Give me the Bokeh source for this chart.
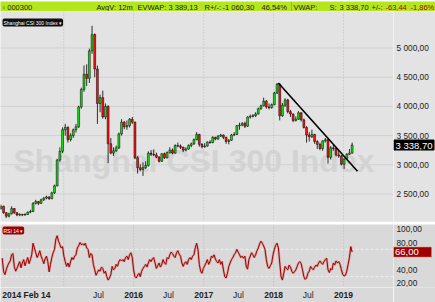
import numpy as np
import pandas as pd
from bokeh.plotting import figure
from bokeh.layouts import column, row
from bokeh.models import Range1d, Label, Span, ColumnDataSource
from bokeh.core.properties import value
from bokeh.embed import file_html
from bokeh.resources import INLINE

# ---------------- data (biweekly candles, CSI 300) ----------------
open_ = [
    2250, 2290, 2180, 2120, 2160, 2250, 2180, 2140, 2150, 2140,
    2150, 2190, 2200, 2340, 2370, 2340, 2400, 2430, 2450, 2420,
    2520, 2640, 3080, 3230, 3600, 3640, 3430, 3500, 3600, 3650,
    3990, 4290, 4550, 4480, 4950, 5230, 4640, 4050, 4150, 3820,
    4000, 3360, 3200, 3240, 3290, 3530, 3730, 3650, 3670, 3780,
    3730, 3120, 2950, 2920, 2950, 2990, 3200, 3180, 3170, 3130,
    3060, 3190, 3120, 3210, 3250, 3200, 3330, 3320, 3300, 3250,
    3270, 3330, 3360, 3430, 3520, 3350, 3310, 3320, 3390, 3380,
    3470, 3440, 3490, 3510, 3470, 3400, 3420, 3510, 3520, 3670,
    3680, 3710, 3660, 3820, 3830, 3840, 3870, 3960, 4010, 4090,
    3990, 3980, 4030, 4230, 4380, 3840, 4020, 4110, 3910, 3870,
    3760, 3780, 3890, 3770, 3640, 3510, 3480, 3520, 3400, 3350,
    3280, 3410, 3430, 3130, 3290, 3280, 3170, 3150, 3010, 3100,
    3180, 3200]
close = [
    2290, 2180, 2120, 2160, 2250, 2180, 2140, 2150, 2140, 2150,
    2190, 2200, 2340, 2370, 2340, 2400, 2430, 2450, 2420, 2520,
    2640, 3080, 3230, 3600, 3640, 3430, 3500, 3600, 3650, 3990,
    4290, 4550, 4480, 4950, 5230, 4640, 4050, 4150, 3820, 4000,
    3360, 3200, 3240, 3290, 3530, 3730, 3650, 3670, 3780, 3730,
    3120, 2950, 2920, 2950, 2990, 3200, 3180, 3170, 3130, 3060,
    3190, 3120, 3210, 3250, 3200, 3330, 3320, 3300, 3250, 3270,
    3330, 3360, 3430, 3520, 3350, 3310, 3320, 3390, 3380, 3470,
    3440, 3490, 3510, 3470, 3400, 3420, 3510, 3520, 3670, 3680,
    3710, 3660, 3820, 3830, 3840, 3870, 3960, 4010, 4090, 3990,
    3980, 4030, 4230, 4380, 3840, 4020, 4110, 3910, 3870, 3760,
    3780, 3890, 3770, 3640, 3510, 3480, 3520, 3400, 3350, 3280,
    3410, 3430, 3130, 3290, 3280, 3170, 3150, 3010, 3100, 3180,
    3200, 3338.70]
high = [
    2320, 2300, 2190, 2180, 2290, 2260, 2190, 2170, 2160, 2170,
    2200, 2230, 2360, 2400, 2380, 2420, 2450, 2470, 2460, 2540,
    2660, 3100, 3300, 3640, 3700, 3660, 3540, 3620, 3700, 4010,
    4320, 4700, 4720, 4990, 5380, 5250, 4700, 4200, 4270, 4050,
    4020, 3460, 3300, 3330, 3550, 3780, 3750, 3760, 3800, 3820,
    3740, 3150, 3010, 3040, 3060, 3230, 3250, 3260, 3210, 3150,
    3200, 3210, 3230, 3300, 3280, 3350, 3380, 3350, 3310, 3300,
    3350, 3380, 3450, 3560, 3530, 3370, 3370, 3400, 3420, 3490,
    3480, 3510, 3530, 3520, 3480, 3440, 3530, 3560, 3680, 3720,
    3730, 3740, 3830, 3860, 3870, 3900, 3980, 4030, 4150, 4110,
    4050, 4050, 4250, 4400, 4390, 4060, 4140, 4130, 3940, 3880,
    3830, 3920, 3900, 3790, 3660, 3560, 3600, 3530, 3420, 3380,
    3420, 3460, 3440, 3320, 3340, 3290, 3250, 3170, 3110, 3200,
    3270, 3380]
low = [
    2230, 2160, 2090, 2100, 2150, 2160, 2120, 2120, 2120, 2130,
    2140, 2170, 2190, 2320, 2310, 2330, 2380, 2410, 2400, 2410,
    2500, 2630, 3050, 3200, 3500, 3380, 3400, 3460, 3550, 3630,
    3960, 4250, 4350, 4400, 4900, 4500, 3700, 3900, 3790, 3780,
    3030, 3180, 3150, 3220, 3270, 3500, 3610, 3600, 3640, 3700,
    3100, 2850, 2890, 2810, 2930, 2970, 3150, 3150, 3110, 3040,
    3050, 3100, 3110, 3190, 3180, 3190, 3300, 3270, 3220, 3230,
    3260, 3300, 3340, 3420, 3310, 3280, 3290, 3310, 3360, 3370,
    3420, 3430, 3480, 3440, 3360, 3350, 3410, 3490, 3510, 3600,
    3660, 3630, 3650, 3790, 3810, 3820, 3860, 3940, 4000, 3960,
    3950, 3960, 4020, 4210, 3760, 3820, 3990, 3880, 3820, 3730,
    3740, 3770, 3740, 3620, 3380, 3400, 3460, 3360, 3270, 3250,
    3240, 3380, 3020, 3090, 3240, 3140, 3120, 2990, 2930, 3080,
    3170, 3190]

# weekly RSI(14)
rsi = [
    57, 38, 33, 40, 46, 50, 53, 62, 64, 45,
    38, 42, 47, 52, 43, 50, 55, 46, 52, 58,
    49, 55, 62, 79, 72, 65, 58, 62, 68, 60,
    55, 49, 56, 60, 52, 37, 48, 58, 65, 70,
    85, 90, 82, 77, 72, 74, 60, 52, 45, 50,
    44, 52, 58, 55, 60, 62, 72, 75, 80, 77,
    78, 76, 79, 72, 70, 58, 64, 62, 48, 40,
    32, 36, 40, 38, 44, 42, 35, 38, 30, 25,
    28, 33, 45, 40, 42, 48, 45, 52, 55, 53,
    55, 52, 58, 60, 55, 62, 65, 58, 40, 30,
    28, 32, 35, 30, 38, 42, 45, 48, 44, 50,
    55, 52, 56, 58, 50, 42, 46, 50, 44, 48,
    55, 50, 48, 58, 56, 62, 66, 64, 60, 58,
    65, 68, 63, 60, 50, 45, 50, 52, 48, 55,
    58, 55, 60, 62, 72, 79, 70, 48, 38, 35,
    42, 46, 50, 55, 48, 52, 60, 58, 62, 56,
    52, 50, 55, 48, 52, 40, 30, 28, 35, 45,
    50, 55, 58, 62, 65, 70, 66, 62, 58, 60,
    57, 60, 45, 41, 55, 60, 65, 62, 58, 62,
    68, 72, 78, 82, 79, 75, 70, 55, 45, 42,
    46, 50, 62, 70, 76, 79, 72, 50, 30, 25,
    35, 45, 42, 40, 47, 44, 38, 35, 37, 40,
    45, 50, 52, 49, 40, 30, 26, 28, 35, 38,
    45, 42, 40, 44, 47, 45, 50, 53, 50, 48,
    52, 55, 57, 40, 36, 42, 40, 50, 47, 53,
    50, 52, 48, 40, 33, 31, 32, 38, 48, 58,
    74, 66]

last_date = "2019-02-15"
trend_dates = ["2018-01-26", "2019-03-15"]
trend_values = [4400, 2890]

price_ticks = [2500, 3000, 3500, 4000, 4500, 5000]
price_tick_labels = ["2 500,00", "3 000,00", "3 500,00", "4 000,00", "4 500,00", "5 000,00"]
rsi_ticks = [20, 40, 80, 100]
rsi_tick_labels = ["20,00", "40,00", "80,00", "100,00"]
rsi_levels = [30, 70]
rsi_last = 66.00

grid_dates = ["2015-01-01", "2016-01-01", "2017-01-01", "2018-01-01", "2019-01-01"]
year_dates = ["2016-01-01", "2017-01-01", "2018-01-01", "2019-01-01"]
year_labels = ["2016", "2017", "2018", "2019"]
first_date = "2014-02-14"
first_label = "2014 Feb 14"
jul_dates = ["2015-07-01", "2016-07-01", "2017-07-01", "2018-07-01"]
jul_labels = ["Jul", "Jul", "Jul", "Jul"]

header_items = [("▫ 000300", 2, "#1a1a1a"), ("AvgV: 12m", 96, "#1a1a1a"),
                ("EVWAP:", 137, "#1a1a1a"), ("3 389,13", 168, "#1a1a1a"),
                ("R+/-:", 204, "#1a1a1a"), ("-1 060,30", 222, "#1a1a1a"),
                ("46,54%", 261, "#1a1a1a"), ("VWAP:", 293, "#1a1a1a"),
                ("S:", 329, "#1a1a1a"), ("3 338,70", 339, "#1a1a1a"),
                ("+/-:", 371, "#1a1a1a"), ("-63,44", 385, "#a80000"),
                ("-1,86%", 410, "#a80000")]

FONT = "Liberation Sans"
PRICE_BG = "#e3e3e3"
RSI_BG = "#d9d9d9"


def ms(d):
    return pd.Timestamp(d).value / 1e6


def fmt(v):
    return f"{v:,.2f}".replace(",", " ").replace(".", ",")


def bare(fig):
    fig.xgrid.visible = False
    fig.ygrid.visible = False
    return fig


x_start, x_end = ms("2014-02-05"), ms("2019-09-19")

# ---------------- header ----------------
hdr = bare(figure(width=435, height=11, x_range=Range1d(0, 435), y_range=Range1d(0, 11),
                  x_axis_location=None, y_axis_location=None, output_backend="svg",
                  toolbar_location=None, min_border=0, outline_line_color=None,
                  background_fill_color="#b4e61c", border_fill_color="#b4e61c"))
for txt, xx, col in header_items:
    hdr.add_layout(Label(x=xx, y=5.3, text=txt, text_font=FONT, text_font_size="7.5px",
                         text_color=col, text_baseline="middle"))
hdr.add_layout(Span(location=291, dimension="height", line_color="#90c010", line_width=1))

# ---------------- price panel ----------------
dates = pd.date_range(end=last_date, periods=len(close), freq="14D")
df = pd.DataFrame(dict(date=dates, open=open_, high=high, low=low, close=close))
df["top"] = df[["open", "close"]].max(axis=1)
df["bottom"] = df[["open", "close"]].min(axis=1)
df["color"] = np.where(df["close"] >= df["open"], "#16e016", "#ff1414")
src = ColumnDataSource(df)

p = bare(figure(width=393, height=211, x_axis_type="datetime",
                x_range=Range1d(x_start, x_end), y_range=Range1d(2029, 5625),
                x_axis_location=None, y_axis_location=None, output_backend="svg",
                toolbar_location=None, min_border=0, min_border_bottom=1,
                outline_line_color=None,
                background_fill_color=PRICE_BG, border_fill_color=PRICE_BG))
for t in price_ticks:
    p.add_layout(Span(location=t, dimension="width", line_color="#d0d0d0",
                      line_width=1, level="underlay"))
for d in grid_dates:
    p.add_layout(Span(location=ms(d), dimension="height", line_color="#bdbdbd",
                      line_dash="1 2", line_width=1, level="underlay"))

p.add_layout(Label(x=13, y=61, x_units="screen", y_units="screen",
                   text="Shanghai CSI 300 Index", text_font=FONT, text_font_size="32px",
                   text_font_style="bold", text_color="#d3d3d3",
                   text_baseline="alphabetic", level="underlay"))

body_w = 10 * 24 * 3600 * 1000
p.segment(x0="date", y0="high", x1="date", y1="low", source=src,
          line_color="black", line_width=0.8)
p.vbar(x="date", width=body_w, top="top", bottom="bottom", source=src,
       fill_color="color", line_color="black", line_width=0.5)
p.line(x=[ms(d) for d in trend_dates], y=trend_values, line_color="black", line_width=1.6)

p.add_layout(Label(x=2, y=199, x_units="screen", y_units="screen",
                   text="Shanghai CSI 300 Index ▾", text_font=FONT, text_font_size="5px",
                   text_color="white", text_baseline="middle",
                   background_fill_color="#111111", padding=1, border_radius=2))

# price scale strip (right)
pa = bare(figure(width=42, height=211, x_range=Range1d(0, 42), y_range=p.y_range,
                 x_axis_location=None, y_axis_location=None, output_backend="svg",
                 toolbar_location=None, min_border=0, min_border_bottom=1,
                 outline_line_color=None,
                 background_fill_color=PRICE_BG, border_fill_color=PRICE_BG))
pa.text(x=[3] * len(price_ticks), y=price_ticks, text=price_tick_labels,
        text_font=value(FONT), text_font_size="8.3px", text_color="#222222",
        text_baseline="middle", text_align="left")
pa.rect(x=[20.5], y=[close[-1]], width=40, height=10, width_units="screen",
        height_units="screen", fill_color="black", line_color="black")
pa.text(x=[2], y=[close[-1]], text=[fmt(close[-1])], text_font=value(FONT),
        text_font_size="9.5px", text_color="white", text_baseline="middle",
        text_align="left")

# ---------------- separator ----------------
sep = bare(figure(width=435, height=2, x_axis_location=None, y_axis_location=None,
                  output_backend="svg", toolbar_location=None, min_border=0,
                  outline_line_color=None, background_fill_color="#24495a",
                  border_fill_color="#24495a"))

# ---------------- RSI panel ----------------
rdates = pd.date_range(end=last_date, periods=len(rsi), freq="7D")
r = bare(figure(width=393, height=63, x_axis_type="datetime",
                x_range=p.x_range, y_range=Range1d(14.1, 106.4),
                x_axis_location=None, y_axis_location=None, output_backend="svg",
                toolbar_location=None, min_border=0, outline_line_color=None,
                background_fill_color=RSI_BG, border_fill_color=RSI_BG))
for d in grid_dates:
    r.add_layout(Span(location=ms(d), dimension="height", line_color="#b8b8b8",
                      line_dash="1 2", line_width=1, level="underlay"))
for lv in rsi_levels:
    r.add_layout(Span(location=lv, dimension="width", line_color="#efefef",
                      line_dash="3 2", line_width=1, level="underlay"))

r.line(x=rdates, y=rsi, line_color="#d06060", line_width=2.4, line_alpha=0.45)
r.line(x=rdates, y=rsi, line_color="#a00000", line_width=1)

r.add_layout(Label(x=2, y=57, x_units="screen", y_units="screen", text="RSI 14 ▾",
                   text_font=FONT, text_font_size="5px", text_color="white",
                   text_baseline="middle", background_fill_color="#a00000",
                   padding=1, border_radius=2))

# time labels strip (bottom)
xs = bare(figure(width=393, height=15, x_axis_type="datetime", x_range=p.x_range,
                 y_range=Range1d(0, 15), x_axis_location=None, y_axis_location=None,
                 output_backend="svg", toolbar_location=None, min_border=0,
                 outline_line_color=None,
                 background_fill_color=RSI_BG, border_fill_color=RSI_BG))
xs.text(x=[ms(first_date)], y=[7.5], text=[first_label], text_font=value(FONT),
        text_font_size="8.5px", text_font_style="bold", text_color="#222222",
        text_baseline="middle", text_align="left")
xs.text(x=[ms(d) for d in year_dates], y=[7.5] * len(year_dates), text=year_labels,
        text_font=value(FONT), text_font_size="8.5px", text_font_style="bold",
        text_color="#222222", text_baseline="middle", text_align="center")
xs.text(x=[ms(d) for d in jul_dates], y=[7.5] * len(jul_dates), text=jul_labels,
        text_font=value(FONT), text_font_size="8.5px", text_color="#222222",
        text_baseline="middle", text_align="center")

# RSI scale strip (right)
ra = bare(figure(width=42, height=78, x_range=Range1d(0, 42), y_range=r.y_range,
                 x_axis_location=None, y_axis_location=None, output_backend="svg",
                 toolbar_location=None, min_border=0, min_border_bottom=15,
                 outline_line_color=None,
                 background_fill_color=RSI_BG, border_fill_color=RSI_BG))
ra.text(x=[3] * len(rsi_ticks), y=rsi_ticks, text=rsi_tick_labels,
        text_font=value(FONT), text_font_size="8.3px", text_color="#222222",
        text_baseline="middle", text_align="left")
ra.rect(x=[19], y=[rsi_last], width=38, height=10, width_units="screen",
        height_units="screen", fill_color="#a00000", line_color="#e08080",
        line_dash="1 1")
ra.text(x=[1.5], y=[rsi_last], text=[fmt(rsi_last)], text_font=value(FONT),
        text_font_size="9.5px", text_color="white", text_baseline="middle",
        text_align="left")

layout = column(hdr, row(p, pa), sep, row(column(r, xs), ra))
open("out.html", "w").write(file_html(layout, INLINE))
